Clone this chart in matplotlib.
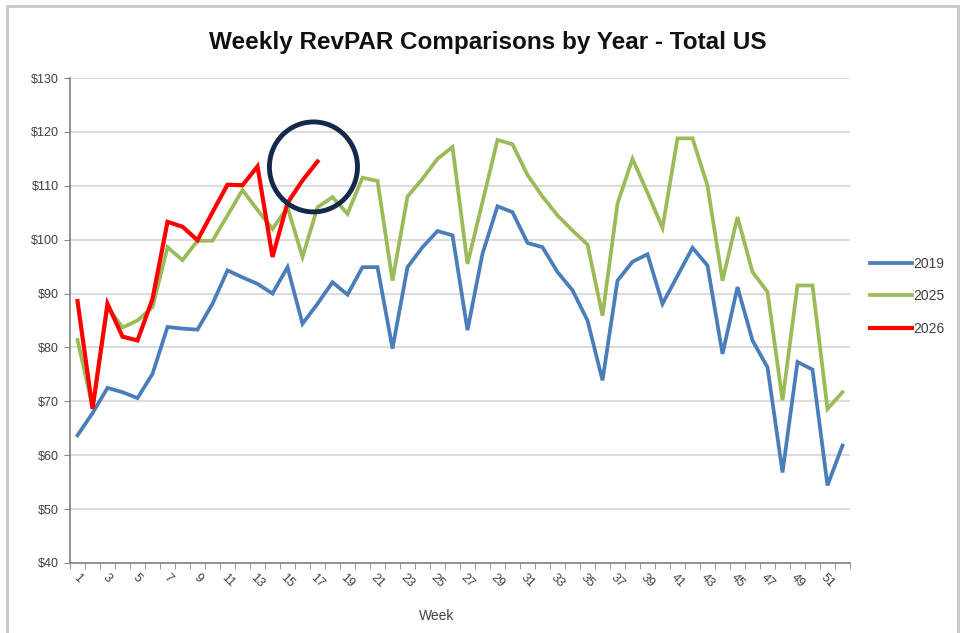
import numpy as np
import matplotlib.pyplot as plt
from matplotlib.patches import Ellipse, Rectangle

# weekly RevPAR
weeks = np.arange(1, 53)
rev_2019 = [63.7, 67.8, 72.5, 71.7, 70.6, 75.1, 83.8, 83.5, 83.3, 88.1,
            94.3, 93.0, 91.8, 90.0, 94.9, 84.4, 88.1, 92.1, 89.8, 94.9,
            94.9, 79.8, 94.9, 98.6, 101.6, 100.8, 83.2, 97.4, 106.2, 105.1,
            99.4, 98.6, 94.0, 90.6, 85.0, 73.9, 92.4, 95.9, 97.3, 88.1,
            93.3, 98.5, 95.2, 78.8, 91.2, 81.3, 76.3, 56.8, 77.3, 75.9,
            54.4, 61.8]
rev_2025 = [81.4, 69.0, 87.5, 83.7, 85.0, 87.5, 98.6, 96.2, 99.8, 99.8,
            104.5, 109.2, 105.5, 102.0, 106.0, 96.8, 106.0, 107.9, 104.8, 111.5,
            110.9, 92.4, 108.0, 111.3, 115.0, 117.2, 95.5, 107.0, 118.5, 117.7,
            112.0, 108.0, 104.5, 101.7, 99.1, 85.9, 106.7, 115.0, 108.7, 102.2,
            118.8, 118.8, 110.0, 92.4, 104.2, 94.0, 90.3, 70.2, 91.5, 91.5,
            68.6, 71.7]
rev_2026 = [88.6, 68.6, 88.1, 82.0, 81.3, 89.0, 103.3, 102.4, 99.9, 105.1,
            110.2, 110.1, 113.6, 96.8, 106.8, 111.0, 114.5]

series = [('2019', rev_2019, '#4a7ebb', 2.7),
          ('2025', rev_2025, '#9bbb59', 2.7),
          ('2026', rev_2026, '#ff0000', 3.0)]

plt.rcParams['font.family'] = ['Liberation Sans', 'DejaVu Sans']

fig = plt.figure(figsize=(9.64, 6.33), dpi=100)
ax = fig.add_axes((70 / 964, 1 - 563 / 633, 780 / 964, 485 / 633))

for name, vals, col, lw in series:
    ax.plot(weeks[:len(vals)], vals, color=col, linewidth=lw, label=name,
            solid_joinstyle='miter')

ax.set_xlim(0.5, 52.5)
ax.set_ylim(40, 130)
ax.set_yticks(np.arange(40, 131, 10))
ax.set_yticklabels([f'${v}' for v in range(40, 131, 10)])
ax.grid(axis='y', color='#d9d9d9', linewidth=1.3)
ax.set_axisbelow(True)

# category axis: ticks between weeks, labels every other week
ax.set_xticks(np.arange(0.5, 53, 1), minor=True)
ax.set_xticks(weeks[::2])
ax.set_xticklabels([str(w) for w in weeks[::2]], rotation=-45,
                   ha='center', va='top')
ax.tick_params(axis='x', which='major', length=0, pad=6)
ax.tick_params(axis='x', which='minor', length=4, color='#888888', direction='out')
ax.tick_params(axis='y', length=4, color='#888888', pad=4)
ax.tick_params(labelsize=9, labelcolor='#404040')

for s in ['top', 'right']:
    ax.spines[s].set_visible(False)
for s in ['left', 'bottom']:
    ax.spines[s].set_color('#888888')
    ax.spines[s].set_linewidth(1.3)

ax.set_xlabel('Week', fontsize=10, color='#404040')
ax.xaxis.set_label_coords(0.47, -0.095)

fig.text(488 / 964, 1 - 42 / 633, 'Weekly RevPAR Comparisons by Year - Total US',
         ha='center', va='center', fontsize=17.5, fontweight='bold', color='#111111')

leg = ax.legend(loc='center left', bbox_to_anchor=(1.01, 0.55), frameon=False,
                fontsize=10, handlelength=3.0, handletextpad=0.1,
                labelspacing=1.35, labelcolor='#404040')

# highlight circle around latest week
ax.add_patch(Ellipse((16.73, 113.5), 5.87, 16.7, fill=False,
                     edgecolor='#14284b', linewidth=3.5, clip_on=False, zorder=5))

# chart border
fig.patches.append(Rectangle((7 / 964, -0.05), 951 / 964, 1 - 6 / 633 + 0.05,
                             transform=fig.transFigure, fill=False,
                             edgecolor='#c8c8c8', linewidth=2))

plt.savefig('out.png', dpi=100)
